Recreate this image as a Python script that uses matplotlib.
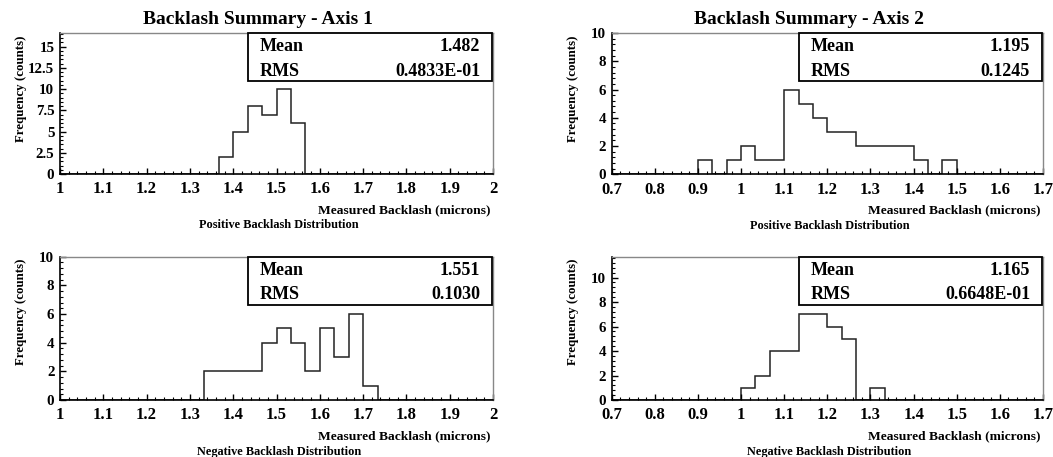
import numpy as np
import matplotlib
matplotlib.use("Agg")
import matplotlib.pyplot as plt
from matplotlib.ticker import MultipleLocator, FuncFormatter
from matplotlib.patches import Rectangle

plt.rcParams['font.family'] = ['Liberation Serif', 'DejaVu Serif']
plt.rcParams['font.weight'] = 'bold'

# ---- data ----
ranges = [(1.0, 2.0), (0.7, 1.7), (1.0, 2.0), (0.7, 1.7)]
n_bins = 30
counts_axis1_pos = [0]*11 + [2, 5, 8, 7, 10, 6] + [0]*13
counts_axis2_pos = [0]*6 + [1, 0, 1, 2, 1, 1, 6, 5, 4, 3, 3, 2, 2, 2, 2, 1, 0, 1] + [0]*6
counts_axis1_neg = [0]*10 + [2, 2, 2, 2, 4, 5, 4, 2, 5, 3, 6, 1] + [0]*8
counts_axis2_neg = [0]*9 + [1, 2, 4, 4, 7, 7, 6, 5, 0, 1] + [0]*11
all_counts = [counts_axis1_pos, counts_axis2_pos, counts_axis1_neg, counts_axis2_neg]
ymax = [16.6, 10.0, 10.0, 11.7]
ymajor = [2.5, 2, 2, 2]
titles = ["Backlash Summary - Axis 1", "Backlash Summary - Axis 2", None, None]
subtitles = ["Positive Backlash Distribution", "Positive Backlash Distribution",
             "Negative Backlash Distribution", "Negative Backlash Distribution"]
means = ["1.482", "1.195", "1.551", "1.165"]
rmss = ["0.4833E-01", "0.1245", "0.1030", "0.6648E-01"]
xlabel = "Measured Backlash (microns)"
ylabel = "Frequency (counts)"

W, H = 1053, 457
fig = plt.figure(figsize=(W/100, H/100), dpi=100)

# axes boxes in pixels: left, top, right, bottom
boxes = [(60, 33, 493, 174), (611.7, 33, 1043, 174.3),
         (60, 256.7, 493, 400), (611.7, 256.7, 1043, 400)]


def xfmt(v, p):
    if abs(v - round(v)) < 1e-9:
        return f"{int(round(v))}"
    return f"{v:.1f}"


for i in range(4):
    l, t, r, b = boxes[i]
    ax = fig.add_axes([l/W, 1-b/H, (r-l)/W, (b-t)/H])
    lo, hi = ranges[i]
    edges = np.linspace(lo, hi, n_bins+1)
    ax.stairs(all_counts[i], edges, baseline=0, fill=False, color='#222222', lw=1.1)
    ax.set_xlim(lo, hi)
    ax.set_ylim(0, ymax[i])
    ax.xaxis.set_major_locator(MultipleLocator(0.1))
    ax.xaxis.set_minor_locator(MultipleLocator(0.02))
    ax.yaxis.set_major_locator(MultipleLocator(ymajor[i]))
    ax.yaxis.set_minor_locator(MultipleLocator(ymajor[i]/5))
    ax.xaxis.set_major_formatter(FuncFormatter(xfmt))
    ax.yaxis.set_major_formatter(FuncFormatter(lambda v, p: f"{v:g}"))
    ax.tick_params(which='both', direction='in', top=False, right=False)
    ax.tick_params(axis='x', labelsize=12, pad=5.2)
    ax.tick_params(axis='y', labelsize=10.8, pad=4)
    ax.tick_params(which='major', length=4.5, width=1)
    ax.tick_params(which='minor', length=2.2, width=0.8)
    for s in ['left', 'bottom']:
        ax.spines[s].set_color('black'); ax.spines[s].set_linewidth(1.2)
    for s in ['top', 'right']:
        ax.spines[s].set_color('#888888'); ax.spines[s].set_linewidth(1.0)
    for lab in ax.get_xticklabels() + ax.get_yticklabels():
        lab.set_fontweight('bold')
    ax.set_ylabel(ylabel, fontsize=9.3, fontweight='bold', ha='right')
    ax.yaxis.set_label_coords(-33/(r-l), 1 - 2/(b-t))

    # stats box
    bh = 48.3/(b-t)
    x0 = 0.434
    ax.add_patch(Rectangle((x0, 1-bh), 0.998-x0, bh, transform=ax.transAxes,
                           fill=True, facecolor='white', edgecolor='black', lw=1.3, zorder=5, clip_on=False))
    ax.text(x0 + 12/(r-l), 1 - 13.7/(b-t), "Mean", transform=ax.transAxes, fontsize=13,
            fontweight='bold', ha='left', va='center', zorder=6)
    ax.text(1 - 13/(r-l), 1 - 13.7/(b-t), means[i], transform=ax.transAxes, fontsize=13,
            fontweight='bold', ha='right', va='center', zorder=6)
    ax.text(x0 + 12/(r-l), 1 - 38/(b-t), "RMS", transform=ax.transAxes, fontsize=13,
            fontweight='bold', ha='left', va='center', zorder=6)
    ax.text(1 - 13/(r-l), 1 - 38/(b-t), rmss[i], transform=ax.transAxes, fontsize=13,
            fontweight='bold', ha='right', va='center', zorder=6)

    # labels below
    fig.text((r-2)/W, 1-(b+36)/H, xlabel, fontsize=9.7, fontweight='bold', ha='right', va='center')
    fig.text((l + 0.505*(r-l))/W, 1-(b+51.5)/H, subtitles[i], fontsize=8.8, fontweight='bold',
             ha='center', va='center')
    if titles[i]:
        fig.text((l + 0.458*(r-l))/W, 1-20/H, titles[i], fontsize=14, fontweight='bold',
                 ha='center', va='center')

fig.savefig("out.png", dpi=100)
